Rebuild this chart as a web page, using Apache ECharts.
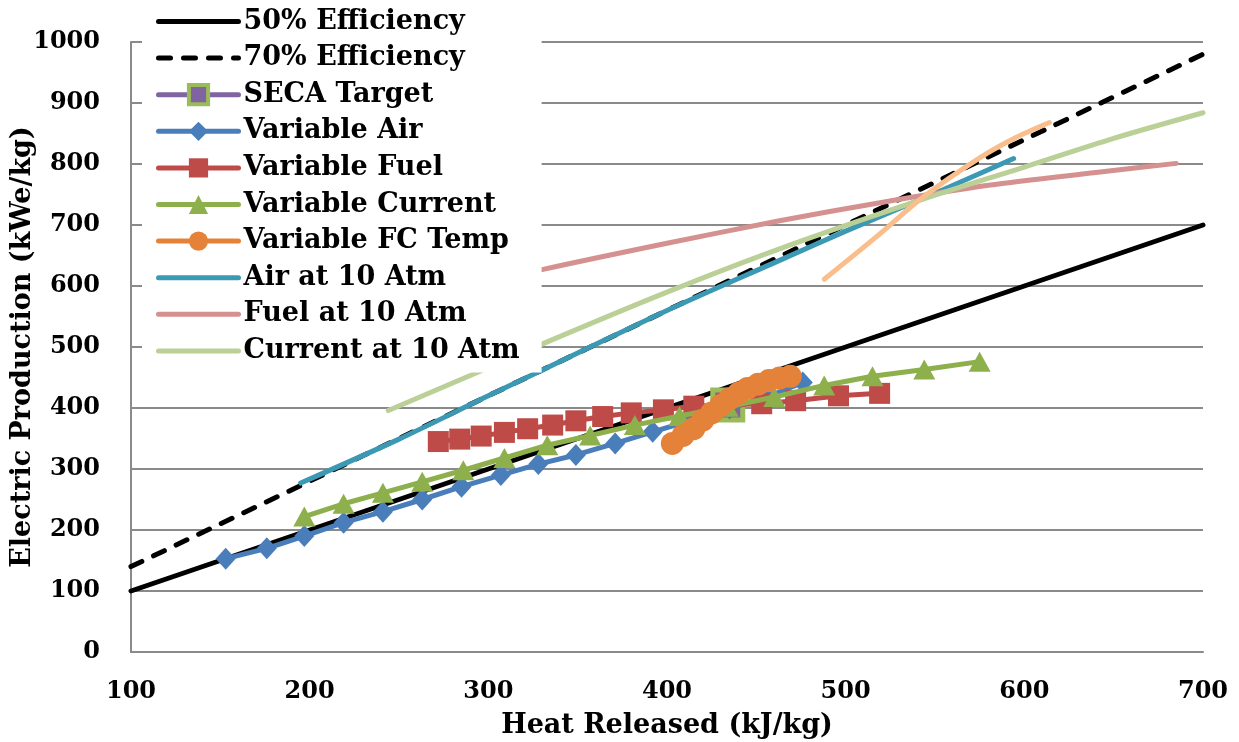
<!DOCTYPE html>
<html>
<head>
<meta charset="utf-8">
<script src="https://cdn.jsdelivr.net/npm/echarts@6/dist/echarts.min.js"></script>
<style>
  html, body { margin: 0; padding: 0; background: #fff; }
  #chart { width: 1239px; height: 742px; }
</style>
</head>
<body>
<div id="chart"></div>
<script>
// Reference efficiency lines (heat released -> electric production)
const effX = [100, 700];
const eff50Y = [100, 700];
const eff70Y = [140, 980];

// SECA target point
const secaX = [434];
const secaY = [405];

// Variable air flow sweep
const airX = [153, 176, 197, 219, 241, 263, 285, 307, 328, 349, 371, 392, 414, 435, 457, 476];
const airY = [153, 170, 190, 212, 230, 250, 271, 290, 308, 323, 342, 361, 380, 399, 419, 442];

// Variable fuel flow sweep
const fuelX = [272, 284, 296, 309, 322, 336, 349, 364, 380, 398, 415, 433, 453, 472, 496, 519];
const fuelY = [345, 349, 354, 360, 366, 372, 379, 386, 392, 397, 403, 405, 407, 412, 420, 424];

// Variable current sweep
const currX = [197, 219, 241, 263, 286, 309, 333, 357, 382, 407, 434, 460, 488, 515, 544, 575];
const currY = [222, 243, 261, 279, 298, 318, 339, 355, 372, 387, 402, 418, 437, 452, 463, 476];

// Variable fuel cell temperature sweep
const tempX = [403, 409, 415, 420, 425, 430, 435, 440, 445, 451, 457, 463, 469];
const tempY = [342, 355, 366, 380, 392, 404, 415, 424, 432, 439, 445, 449, 452];

// Pressurised (10 atm) cases
const air10X = [195, 250, 300, 350, 400, 463, 500, 550, 594];
const air10Y = [277, 349, 420, 490, 560, 642, 690, 752, 809];

const fuel10X = [300, 332, 400, 463, 520, 580, 640, 685];
const fuel10Y = [605, 628, 670, 707, 737, 765, 786, 801];

const curr10X = [244, 300, 331, 400, 463, 543, 600, 650, 700];
const curr10Y = [396, 466, 506, 590, 661, 742, 795, 842, 884];

const temp10X = [488, 519, 543, 575, 595, 614];
const temp10Y = [611, 685, 745, 810, 843, 868];

// Axis ticks
const xTicks = [100, 200, 300, 400, 500, 600, 700];
const yTicks = [0, 100, 200, 300, 400, 500, 600, 700, 800, 900, 1000];

const legendNames = [
  '50% Efficiency', '70% Efficiency', 'SECA Target', 'Variable Air',
  'Variable Fuel', 'Variable Current', 'Variable FC Temp',
  'Air at 10 Atm', 'Fuel at 10 Atm', 'Current at 10 Atm'
];
// legend entries whose series carry no markers
const plainLines = ['50% Efficiency', '70% Efficiency', 'Air at 10 Atm', 'Fuel at 10 Atm', 'Current at 10 Atm'];

function pts(xs, ys) { return xs.map((x, i) => [x, ys[i]]); }

const FONT = 'DejaVu Serif';
const labelText = { fontFamily: FONT, fontWeight: 'bold', color: '#000', fontSize: 24 };
const titleText = { fontFamily: FONT, fontWeight: 'bold', color: '#000', fontSize: 27 };

function lineSeries(name, xs, ys, color, z, extra) {
  return Object.assign({
    name: name,
    type: 'line',
    data: pts(xs, ys),
    z: z,
    symbol: 'none',
    lineStyle: { color: color, width: 5, cap: 'round', join: 'round' },
    itemStyle: { color: color },
    emphasis: { disabled: true }
  }, extra || {});
}

const legendData = legendNames.map(n => {
  if (plainLines.indexOf(n) >= 0) return { name: n, itemStyle: { opacity: 0 } };
  if (n === 'SECA Target') {
    return { name: n, itemStyle: { color: '#8064A2', borderColor: '#9BBB59', borderWidth: 4 } };
  }
  return { name: n, itemStyle: { borderWidth: 0 } };
});

const chart = echarts.init(document.getElementById('chart'), null, { renderer: 'canvas' });

chart.setOption({
  animation: false,
  backgroundColor: '#fff',
  grid: { left: 131, right: 36, top: 42, bottom: 90, containLabel: false, outerBoundsMode: 'none' },
  legend: {
    data: legendData,
    orient: 'vertical',
    left: 142,
    top: 0,
    z: 50,
    backgroundColor: '#fff',
    padding: [8, 22, 8, 14],
    itemWidth: 80,
    itemHeight: 24,
    itemGap: 9.6,
    selectedMode: false,
    lineStyle: { width: 5 },
    textStyle: Object.assign({}, titleText, { lineHeight: 27 })
  },
  xAxis: {
    type: 'value',
    min: 100,
    max: 700,
    interval: 100,
    name: 'Heat Released (kJ/kg)',
    nameLocation: 'middle',
    nameGap: 60,
    nameMoveOverlap: false,
    nameTextStyle: titleText,
    axisLine: { show: true, onZero: false, lineStyle: { color: '#8a8a8a', width: 2 } },
    axisTick: { show: false },
    splitLine: { show: false },
    axisLabel: Object.assign({ margin: 28 }, labelText, {
      formatter: v => (xTicks.indexOf(v) >= 0 ? String(v) : '')
    })
  },
  yAxis: {
    type: 'value',
    min: 0,
    max: 1000,
    interval: 100,
    name: 'Electric Production (kWe/kg)',
    nameLocation: 'middle',
    nameGap: 95,
    nameMoveOverlap: false,
    nameTextStyle: titleText,
    axisLine: { show: true, lineStyle: { color: '#8a8a8a', width: 2 } },
    axisTick: { show: false },
    splitLine: { show: true, lineStyle: { color: '#8a8a8a', width: 2 } },
    axisLabel: Object.assign({ margin: 31 }, labelText, {
      formatter: v => (yTicks.indexOf(v) >= 0 ? String(v) : '')
    })
  },
  series: [
    lineSeries('50% Efficiency', effX, eff50Y, '#000000', 2),
    lineSeries('70% Efficiency', effX, eff70Y, '#000000', 3, {
      lineStyle: { color: '#000000', width: 5, type: [12, 13], cap: 'round' }
    }),
    lineSeries('SECA Target', secaX, secaY, '#8064A2', 4, {
      symbol: 'rect',
      symbolSize: 30,
      showSymbol: true,
      itemStyle: { color: '#8064A2', borderColor: '#9BBB59', borderWidth: 5 }
    }),
    lineSeries('Variable Air', airX, airY, '#4A7EBB', 5, {
      symbol: 'diamond', symbolSize: [20, 22], showSymbol: true
    }),
    lineSeries('Variable Fuel', fuelX, fuelY, '#BE4B48', 6, {
      symbol: 'rect', symbolSize: 21, showSymbol: true
    }),
    lineSeries('Variable Current', currX, currY, '#8DB04C', 7, {
      symbol: 'triangle', symbolSize: [22, 20], showSymbol: true
    }),
    lineSeries('Variable FC Temp', tempX, tempY, '#E5823A', 8, {
      symbol: 'circle', symbolSize: 23, showSymbol: true
    }),
    lineSeries('Air at 10 Atm', air10X, air10Y, '#3B99B4', 9, { smooth: 0.3 }),
    lineSeries('Fuel at 10 Atm', fuel10X, fuel10Y, '#D59090', 10, { smooth: 0.3 }),
    lineSeries('Current at 10 Atm', curr10X, curr10Y, '#BAD096', 11, { smooth: 0.3 }),
    lineSeries('FC Temp at 10 Atm', temp10X, temp10Y, '#F9BE8C', 12, { smooth: 0.3 })
  ]
});
</script>
</body>
</html>
